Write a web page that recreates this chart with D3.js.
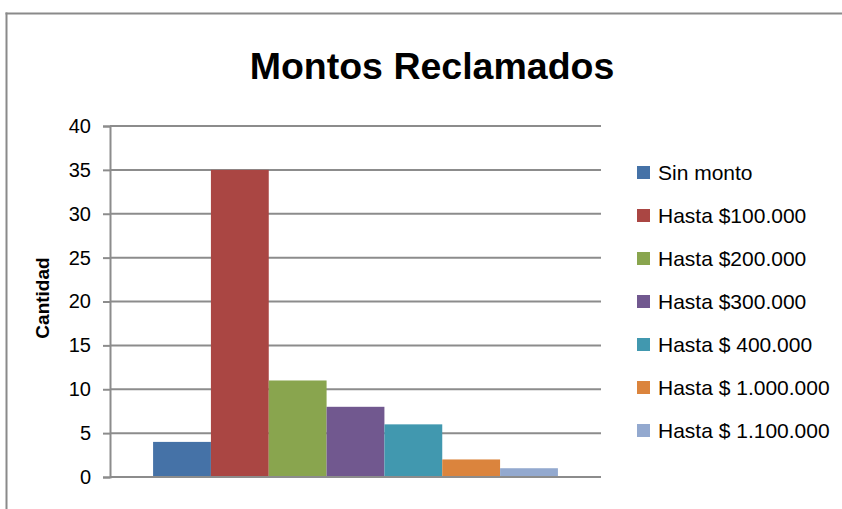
<!DOCTYPE html>
<html>
<head>
<meta charset="utf-8">
<script src="https://cdn.jsdelivr.net/npm/d3@7"></script>
<style>
  body { margin: 0; background: #fff; overflow: hidden; }
  svg { display: block; }
  text { font-family: "Liberation Sans", Arial, sans-serif; fill: #000; }
</style>
</head>
<body>
<div id="chart"></div>
<script>
// data
var seriesNames = ['Sin monto', 'Hasta $100.000', 'Hasta $200.000', 'Hasta $300.000',
                   'Hasta $ 400.000', 'Hasta $ 1.000.000', 'Hasta $ 1.100.000']
var seriesValues = [4, 35, 11, 8, 6, 2, 1]
var seriesColors = ['#4572A7', '#AA4643', '#89A54E', '#71588F', '#4198AF', '#DB843D', '#93A9CF']
var yTicks = [0, 5, 10, 15, 20, 25, 30, 35, 40]

var width = 842, height = 509
var plotLeft = 110, plotRight = 601, plotTop = 126, plotBottom = 477

var svg = d3.select('#chart').append('svg')
    .attr('width', width)
    .attr('height', height)

// chart frame (only top and left edges are inside the picture)
svg.append('line')
    .attr('x1', 6.5).attr('x2', 6.5)
    .attr('y1', 12.5).attr('y2', height + 5)
    .attr('stroke', '#8a8a8a')
    .attr('stroke-width', 2)
svg.append('line')
    .attr('x1', 5.5).attr('x2', width + 20)
    .attr('y1', 13.5).attr('y2', 13.5)
    .attr('stroke', '#8a8a8a')
    .attr('stroke-width', 2)

svg.append('text')
    .attr('x', 432).attr('y', 79)
    .attr('text-anchor', 'middle')
    .style('font-size', '37.5px')
    .style('font-weight', 'bold')
    .text('Montos Reclamados')

var y = d3.scaleLinear().domain([0, 40]).range([plotBottom, plotTop])
var x = d3.scaleBand().domain(seriesNames)
    .range([plotLeft, plotRight])
    .paddingInner(0)
    .paddingOuter(0.745)

// gridlines
svg.append('g').selectAll('line')
    .data(yTicks)
    .enter()
    .append('line')
    .attr('x1', plotLeft).attr('x2', plotRight)
    .attr('y1', function(d) {return y(d);})
    .attr('y2', function(d) {return y(d);})
    .attr('stroke', '#8c8c8c')
    .attr('stroke-width', 2)

// bars
svg.append('g').selectAll('rect')
    .data(seriesValues)
    .enter()
    .append('rect')
    .attr('x', function(d, i) {return x(seriesNames[i]);})
    .attr('y', function(d) {return y(d);})
    .attr('width', x.bandwidth())
    .attr('height', function(d) {return plotBottom - y(d);})
    .attr('fill', function(d, i) {return seriesColors[i];})

// y axis
var yAxis = svg.append('g')
    .attr('transform', 'translate(' + plotLeft + ',0)')
    .call(d3.axisLeft(y).tickValues(yTicks).tickSize(7).tickPadding(12))
yAxis.select('.domain').attr('stroke', '#8c8c8c').attr('stroke-width', 2)
yAxis.selectAll('.tick line').attr('stroke', '#8c8c8c').attr('stroke-width', 2)
yAxis.selectAll('.tick text')
    .style('font-size', '20px')
    .style('font-family', '"Liberation Sans", Arial, sans-serif')
    .attr('fill', '#000')

// x axis baseline
svg.append('line')
    .attr('x1', plotLeft).attr('x2', plotRight)
    .attr('y1', y(0)).attr('y2', y(0))
    .attr('stroke', '#8c8c8c')
    .attr('stroke-width', 2)

svg.append('text')
    .attr('transform', 'translate(49,298) rotate(-90)')
    .attr('text-anchor', 'middle')
    .style('font-size', '19px')
    .style('font-weight', 'bold')
    .text('Cantidad')

// legend
var legend = svg.append('g').selectAll('g')
    .data(seriesNames)
    .enter()
    .append('g')
    .attr('transform', function(d, i) {return 'translate(637,' + (172 + i * 43) + ')';})

legend.append('rect')
    .attr('x', 0).attr('y', -6)
    .attr('width', 13).attr('height', 13)
    .attr('fill', function(d, i) {return seriesColors[i];})

legend.append('text')
    .attr('x', 21).attr('y', 7.5)
    .style('font-size', '21px')
    .text(function(d) {return d;})
</script>
</body>
</html>
